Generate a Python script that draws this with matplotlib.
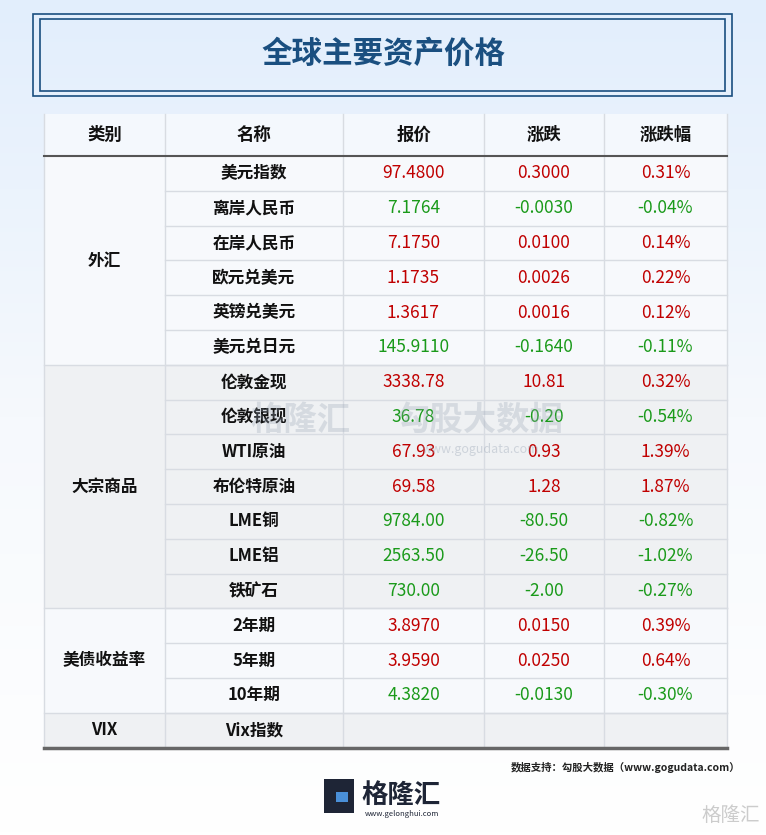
import numpy as np
import matplotlib.pyplot as plt
from matplotlib.patches import Rectangle

plt.rcParams['font.family'] = 'Noto Sans CJK SC'

title = '全球主要资产价格'
headers = ['类别', '名称', '报价', '涨跌', '涨跌幅']
groups = ['外汇', '大宗商品', '美债收益率', 'VIX']
group_sizes = [6, 7, 3, 1]
names = ['美元指数', '离岸人民币', '在岸人民币', '欧元兑美元', '英镑兑美元', '美元兑日元',
         '伦敦金现', '伦敦银现', 'WTI原油', '布伦特原油', 'LME铜', 'LME铝', '铁矿石',
         '2年期', '5年期', '10年期', 'Vix指数']
prices = ['97.4800', '7.1764', '7.1750', '1.1735', '1.3617', '145.9110',
          '3338.78', '36.78', '67.93', '69.58', '9784.00', '2563.50', '730.00',
          '3.8970', '3.9590', '4.3820', '']
changes = ['0.3000', '-0.0030', '0.0100', '0.0026', '0.0016', '-0.1640',
           '10.81', '-0.20', '0.93', '1.28', '-80.50', '-26.50', '-2.00',
           '0.0150', '0.0250', '-0.0130', '']
pcts = ['0.31%', '-0.04%', '0.14%', '0.22%', '0.12%', '-0.11%',
        '0.32%', '-0.54%', '1.39%', '1.87%', '-0.82%', '-1.02%', '-0.27%',
        '0.39%', '0.64%', '-0.30%', '']

RED = '#c00000'
GREEN = '#1a9a1a'
cols = [44, 165, 343, 484, 604, 727]
head_top, head_bot = 114, 156
row_h = 34.8
n = len(names)

fig = plt.figure(figsize=(7.66, 8.35), dpi=100)
ax = fig.add_axes([0, 0, 1, 1])
ax.set_xlim(0, 766)
ax.set_ylim(835, 0)
ax.axis('off')

# background gradient
grad = np.linspace(0, 1, 256).reshape(-1, 1)
ax.imshow(grad, extent=[0, 766, 835, 0], cmap=plt.matplotlib.colors.LinearSegmentedColormap.from_list(
    'bg', ['#e2eefc', '#f6f9fd', '#ffffff']), aspect='auto', zorder=0)

# title box
ax.add_patch(Rectangle((33, 14), 699, 82, fill=False, ec='#1a4f80', lw=1.2, zorder=2))
ax.add_patch(Rectangle((40, 19), 685, 72, fill=False, ec='#1a4f80', lw=1.2, zorder=2))
ax.text(383, 54, title, ha='center', va='center', fontsize=22, fontweight='bold', color='#1a4f80', zorder=3)

# header
ax.add_patch(Rectangle((cols[0], head_top), cols[-1] - cols[0], head_bot - head_top,
                       fc='#f4f8fd', ec='none', zorder=1))
for i, h in enumerate(headers):
    ax.text((cols[i] + cols[i + 1]) / 2, (head_top + head_bot) / 2, h, ha='center', va='center',
            fontsize=12.5, fontweight='bold', color='#111111', zorder=3)

# group backgrounds
start = 0
for gi, (g, size) in enumerate(zip(groups, group_sizes)):
    y0 = head_bot + start * row_h
    fc = '#f7f9fc' if gi % 2 == 0 else '#eff1f3'
    ax.add_patch(Rectangle((cols[0], y0), cols[-1] - cols[0], size * row_h, fc=fc, ec='none', zorder=1))
    ax.text((cols[0] + cols[1]) / 2, y0 + size * row_h / 2, g, ha='center', va='center',
            fontsize=12, fontweight='bold', color='#111111', zorder=3)
    if start > 0:
        ax.plot([cols[0], cols[-1]], [y0, y0], color='#d8dce2', lw=1, zorder=2)
    start += size

# rows
for r in range(n):
    yc = head_bot + (r + 0.5) * row_h
    if r > 0:
        ax.plot([cols[1], cols[-1]], [yc - row_h / 2] * 2, color='#d8dce2', lw=1, zorder=2)
    color = GREEN if changes[r].startswith('-') else RED
    ax.text((cols[1] + cols[2]) / 2, yc, names[r], ha='center', va='center',
            fontsize=12, fontweight='bold', color='#111111', zorder=3)
    for ci, val in zip([2, 3, 4], [prices[r], changes[r], pcts[r]]):
        ax.text((cols[ci] + cols[ci + 1]) / 2, yc, val, ha='center', va='center',
                fontsize=12.5, fontweight='medium', color=color, zorder=3)

table_bot = head_bot + n * row_h
for x in cols:
    ax.plot([x, x], [head_top, table_bot], color='#d8dce2', lw=1, zorder=2)
ax.plot([cols[0], cols[-1]], [head_bot, head_bot], color='#555555', lw=1.5, zorder=2)
ax.plot([cols[0], cols[-1]], [table_bot, table_bot], color='#666666', lw=2.5, zorder=2)

# watermark
ax.text(300, 420, '格隆汇', fontsize=24, fontweight='bold', color='#9aa6b6', alpha=0.3,
        ha='center', va='center', zorder=4)
ax.text(480, 420, '勾股大数据', fontsize=24, fontweight='bold', color='#9aa6b6', alpha=0.3,
        ha='center', va='center', zorder=4)
ax.text(480, 449, 'www.gogudata.com', fontsize=9, color='#9aa6b6', alpha=0.4,
        ha='center', va='center', zorder=4)

# footer
ax.text(740, 767, '数据支持：勾股大数据（www.gogudata.com）', ha='right', va='center',
        fontsize=7.5, fontweight='bold', color='#222222')
ax.add_patch(Rectangle((324, 779), 30, 34, fc='#1e2536', ec='none'))
ax.add_patch(Rectangle((336, 792), 12, 10, fc='#4a90d9', ec='none'))
ax.text(401, 795, '格隆汇', ha='center', va='center', fontsize=19, fontweight='bold', color='#1e2536')
ax.text(402, 814, 'www.gelonghui.com', ha='center', va='center', fontsize=5.5, color='#1e2536')
ax.text(760, 815, '格隆汇', ha='right', va='center', fontsize=14, color='#cccccc')

fig.savefig('out.png', dpi=100)
